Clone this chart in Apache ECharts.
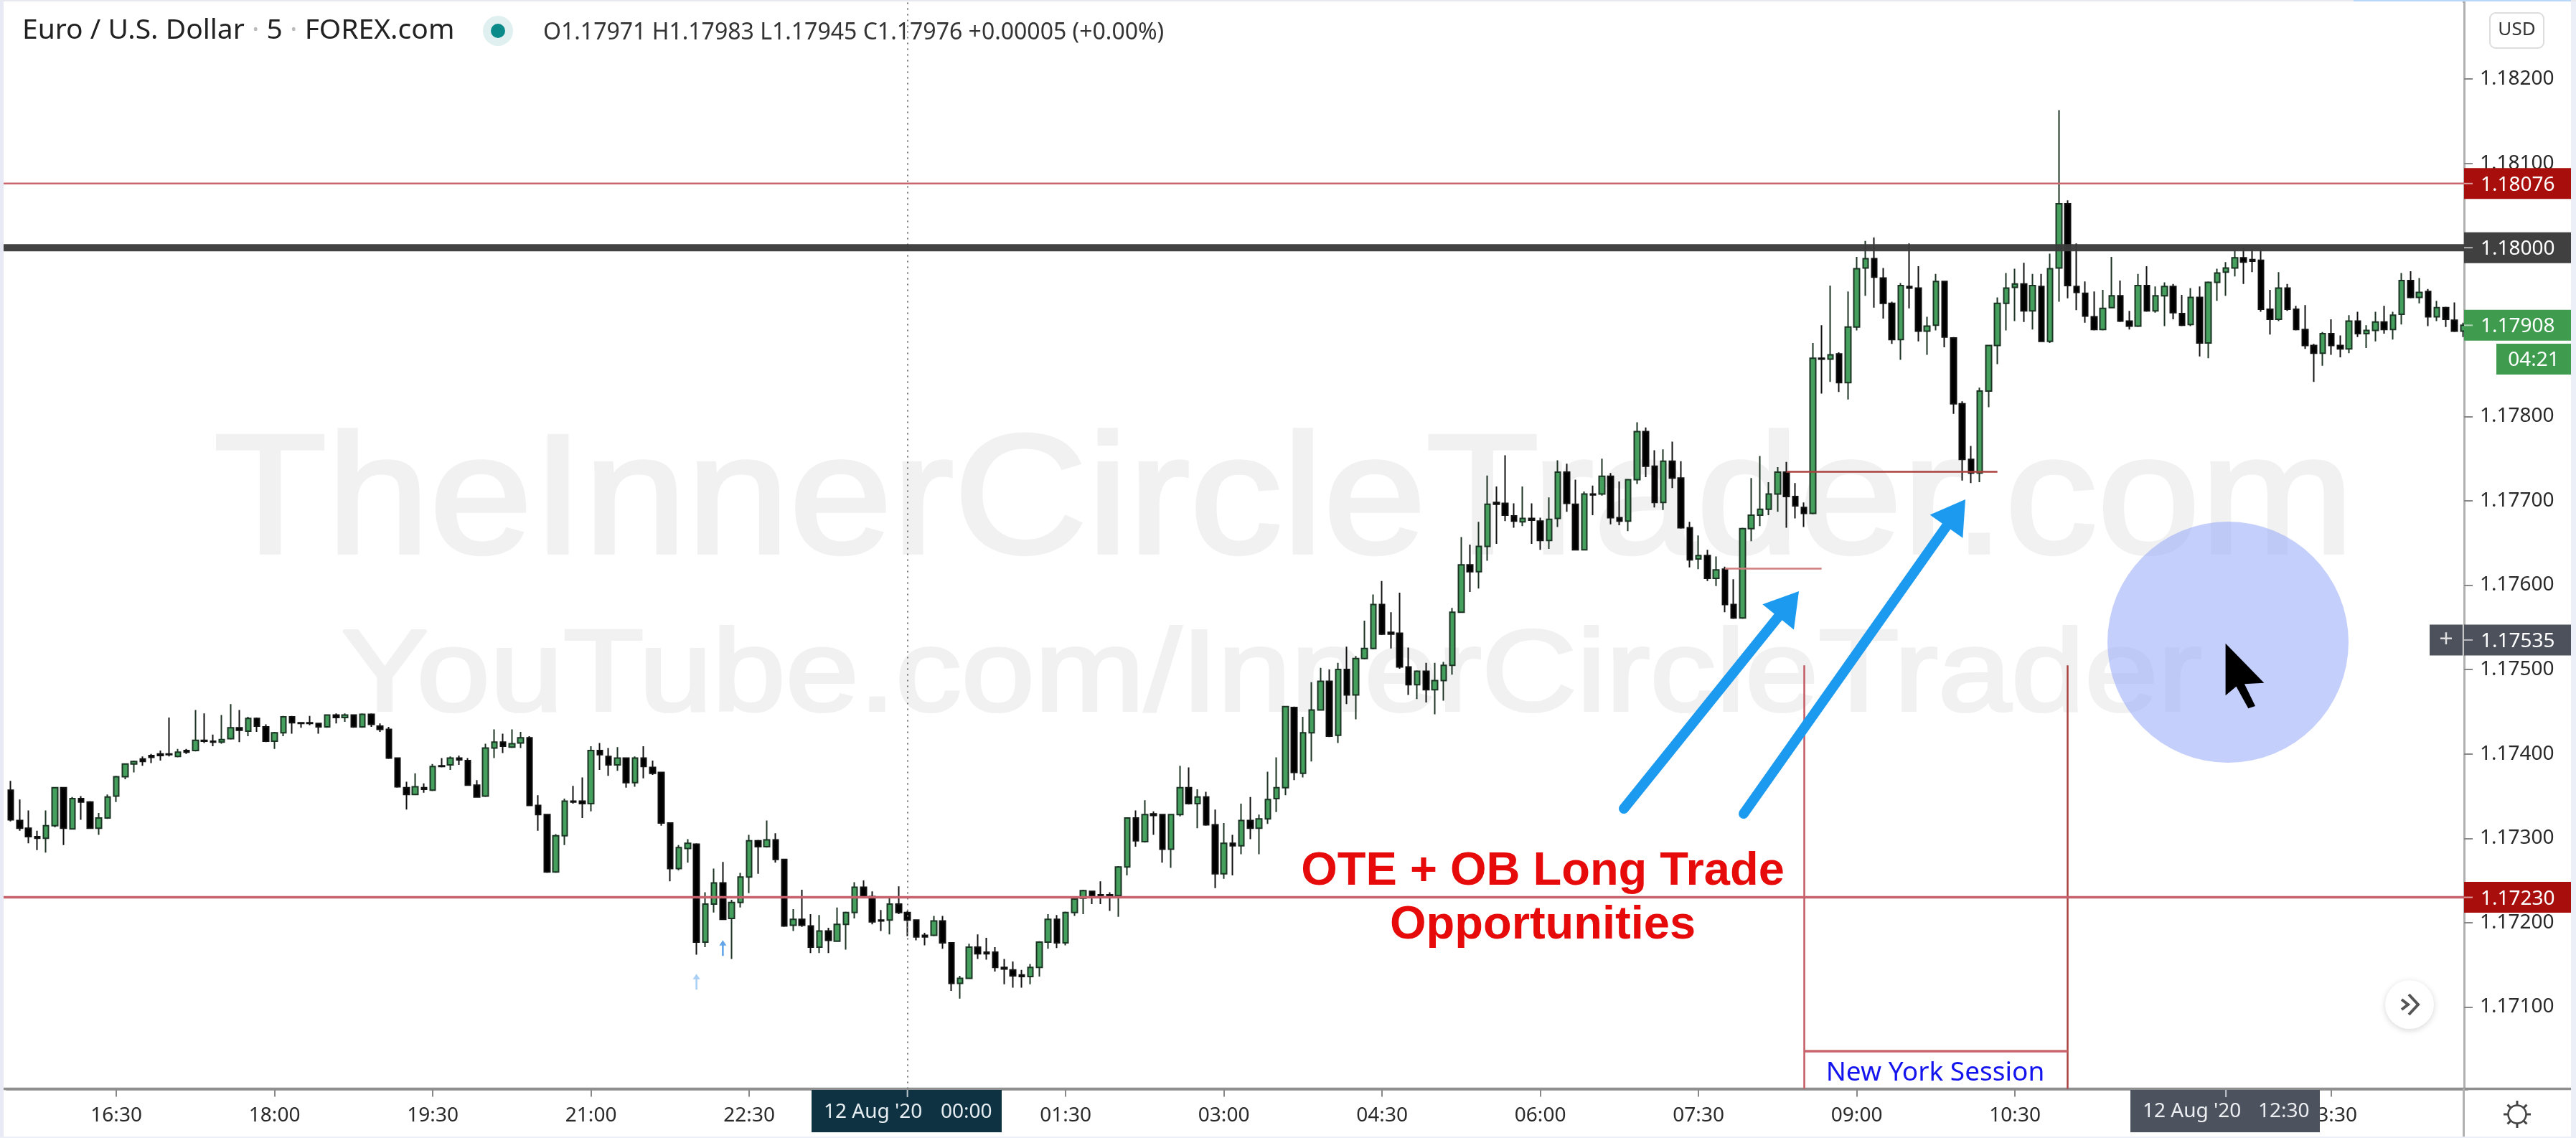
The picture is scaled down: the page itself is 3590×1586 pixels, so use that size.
<!DOCTYPE html>
<html><head><meta charset="utf-8">
<style>html,body{margin:0;padding:0;background:#fff}#c{width:3590px;height:1586px;filter:blur(0.6px)}</style>
<script src="https://cdn.jsdelivr.net/npm/echarts@6/dist/echarts.min.js"></script>
</head><body><div id="c"></div>
<script>
// Prices are stored as points (1e-5) above 1.17000.
const BASE = 1.17;
const opensPts = [357,321,312,302,300,315,360,311,347,343,
312,324,350,373,388,394,398,400,400,397,
404,404,416,415,414,418,431,427,442,432,
415,425,444,437,437,436,432,446,443,446,
432,447,433,429,395,360,352,360,357,386,
387,395,392,363,350,407,414,408,413,419,
339,328,260,303,344,344,341,404,397,387,
395,366,395,384,378,318,264,288,293,177,
222,247,205,224,254,297,290,298,275,197,
204,196,171,190,178,198,212,242,231,203,
203,222,212,203,185,185,202,176,128,134,
171,165,165,147,144,138,136,147,177,204,
176,212,229,237,233,233,232,266,324,296,
329,328,287,328,360,341,349,316,258,294,
291,321,312,323,347,360,455,377,425,452,
486,422,500,470,513,525,577,544,543,503,
482,498,476,487,505,568,624,616,646,698,
697,682,675,679,676,653,679,734,696,642,
708,708,729,680,676,725,782,741,698,747,
727,668,631,635,608,619,577,561,667,683,
690,708,734,705,692,685,869,868,874,840,
906,976,987,964,934,891,954,952,901,908,
960,893,815,749,733,830,884,934,953,957,
925,954,889,976,1052,954,946,918,903,929,
943,913,907,955,925,943,954,922,909,941,
887,959,971,976,988,986,985,927,915,952,
927,903,884,875,898,884,880,913,898,902,
912,903,921,961,941,948,918,929,914,901];
const closesPts = [322,312,302,300,315,360,312,347,343,312,
324,349,373,388,391,391,396,398,399,402,
402,416,415,414,417,431,428,442,433,415,
425,444,437,436,436,432,446,443,446,432,
447,435,429,395,361,352,361,358,385,385,
395,393,363,349,407,414,409,412,419,339,
328,260,303,344,343,341,404,399,387,395,
366,395,385,377,318,264,289,294,177,222,
247,204,224,254,297,290,298,275,196,204,
197,171,190,179,198,212,242,231,201,202,
222,212,203,183,183,202,176,128,134,171,
163,163,147,145,137,136,147,177,204,176,
212,228,238,232,231,231,266,324,297,328,
327,287,328,360,341,349,316,258,294,291,
321,312,323,346,360,456,378,425,452,486,
421,500,470,513,525,577,542,542,503,482,
498,476,487,505,568,624,616,646,696,696,
683,676,679,677,653,678,734,697,642,708,
707,729,680,676,725,782,741,698,747,727,
668,630,635,608,618,577,561,667,683,690,
708,734,705,694,685,869,868,873,840,906,
975,987,965,934,891,955,952,901,907,960,
894,815,749,733,830,884,934,952,957,925,
955,889,975,1052,955,947,919,903,928,943,
913,907,955,925,943,954,923,908,941,887,
959,970,976,988,983,984,927,915,952,927,
903,884,875,898,884,880,913,898,902,912,
903,920,961,941,947,918,929,915,901,908];
const lowsPts = [320,309,294,286,283,313,292,311,322,311,
304,323,343,370,378,386,389,392,397,396,
400,403,413,409,412,417,414,421,426,414,
406,421,424,431,434,424,431,436,438,431,
431,432,426,394,360,334,351,354,356,384,
381,387,362,349,349,395,401,407,407,339,
309,259,259,292,341,324,332,381,374,380,
360,361,371,375,315,249,262,271,162,171,
212,203,157,218,235,258,289,271,195,190,
195,164,164,164,178,168,205,230,198,190,
186,210,184,179,173,184,169,119,110,134,
157,156,142,127,123,123,127,136,169,170,
173,208,210,222,222,214,207,256,290,295,
304,271,265,326,340,312,315,241,252,256,
281,299,281,317,331,351,369,372,391,452,
420,413,459,441,512,524,541,525,501,470,
465,461,447,463,494,567,592,596,629,649,
676,668,670,649,642,643,669,687,641,641,
683,706,672,671,664,720,728,692,689,715,
667,621,619,605,599,568,560,560,652,670,
683,687,668,679,669,684,827,841,829,820,
902,943,929,916,886,867,928,889,873,902,
882,803,724,721,722,811,862,902,913,912,
903,888,887,936,940,926,911,902,902,928,
912,903,906,924,923,907,915,907,907,871,
869,937,943,966,957,971,924,897,913,925,
902,880,841,860,873,870,875,894,881,889,
898,891,909,940,934,907,913,906,900,894];
const highsPts = [368,346,333,309,333,360,360,349,350,344,
330,352,374,388,392,397,400,404,443,406,
406,452,448,423,446,459,452,444,443,435,
426,445,445,437,445,437,447,448,448,447,
448,448,436,432,396,367,377,365,388,395,
397,398,395,369,412,429,424,429,426,421,
351,328,305,347,362,372,409,413,407,408,
396,397,409,392,378,319,292,299,294,236,
264,272,227,259,304,298,321,306,275,216,
239,210,209,194,218,213,248,250,237,215,
229,243,214,203,188,208,208,176,137,175,
186,182,171,157,154,144,151,178,210,209,
213,229,239,238,249,236,267,324,333,345,
332,329,329,386,384,358,355,334,318,304,
341,349,328,379,396,457,456,444,485,502,
500,508,527,516,558,589,605,568,591,526,
499,508,508,509,573,657,648,675,730,717,
754,697,717,697,680,704,748,744,725,711,
718,750,733,723,725,793,787,760,761,770,
747,675,659,642,634,622,607,668,727,753,
722,740,746,721,698,887,908,955,876,948,
989,1008,1012,976,936,958,1005,978,918,969,
960,894,818,765,834,885,941,970,975,982,
969,969,993,1163,1056,1005,960,948,950,989,
961,925,969,978,954,959,957,944,952,954,
960,975,983,996,999,998,998,950,971,957,
931,932,886,900,915,896,920,924,908,924,
931,924,970,972,964,951,937,930,935,911];

const yTicks = [1.171,1.172,1.173,1.174,1.175,1.176,1.177,1.178,1.179,1.18,1.181,1.182];
const levelLines = {support:1.1723, round:1.18, resistance:1.18076};
const obLow = {price:1.1762, from:'07:45', to:'08:40'};
const obHigh = {price:1.17735, from:'08:20', to:'10:20'};
const sessionStart = '08:30', sessionEnd = '11:00';
const crosshairTime = '00:00';
const arrowMarks = [{t:'22:00',p:1.1713,c:'#93c3f2'},{t:'22:15',p:1.1717,c:'#3d8fe4'}];

const px = v => +(BASE + v/1e5).toFixed(5);
const times = [];
for (let i=0,m=15*60+30;i<opensPts.length;i++,m+=5){
  const t=m%1440; times.push(String(Math.floor(t/60)).padStart(2,'0')+':'+String(t%60).padStart(2,'0'));
}
const candles = opensPts.map((o,i)=>[px(o),px(closesPts[i]),px(lowsPts[i]),px(highsPts[i])]);

const LB='"Noto Sans",sans-serif';
const AXMIN=1.17003, AXMAX=1.18291;
const seg=(a,b,style)=>[{coord:a,lineStyle:style},{coord:b}];

const chart=echarts.init(document.getElementById('c'));
chart.setOption({
  animation:false,
  backgroundColor:'#fff',
  grid:{left:9,top:3,width:3430,height:1514.5,containLabel:false},
  xAxis:{type:'category',data:times,boundaryGap:true,
    axisLine:{show:true,lineStyle:{color:'#8f8f8f',width:3.5}},
    axisTick:{show:true,length:11,alignWithLabel:true,interval:(i)=>i%18===12,lineStyle:{color:'#888',width:2}},
    axisLabel:{show:true,interval:(i)=>i%18===12,margin:24,fontFamily:LB,fontSize:28,color:'#2a2a2a'},
    splitLine:{show:false}},
  yAxis:{type:'value',position:'right',offset:-5,min:AXMIN,max:AXMAX,scale:true,
    axisLine:{show:true,lineStyle:{color:'#b0b0b0',width:3}},
    axisTick:{show:true,length:12,customValues:yTicks,lineStyle:{color:'#888',width:2}},
    axisLabel:{show:true,customValues:yTicks,margin:22,padding:[4,0,0,0],fontFamily:LB,fontSize:28,color:'#2a2a2a',
      formatter:v=>v.toFixed(5),showMinLabel:true,showMaxLabel:true},
    splitLine:{show:false}},
  series:[{
    type:'candlestick',data:candles,barWidth:8,z:3,
    itemStyle:{color:'#45a05e',color0:'#000',borderColor:'#1b3323',borderColor0:'#111',borderColorDoji:'#222',borderWidth:2},
    markLine:{silent:true,symbol:'none',animation:false,label:{show:false},z:4,
      data:[
        {xAxis:crosshairTime,lineStyle:{color:'#777',width:2,type:[2,6]}},
        seg([obLow.from,obLow.price],[obLow.to,obLow.price],{color:'#cf7d7d',width:2.5,type:'solid'}),
        seg([obHigh.from,obHigh.price],[obHigh.to,obHigh.price],{color:'#a8423e',width:2.5,type:'solid'}),
        seg([sessionStart,1.17505],[sessionStart,AXMIN],{color:'#c25a62',width:2.5,type:'solid'}),
        seg([sessionEnd,1.17505],[sessionEnd,AXMIN],{color:'#a8423e',width:2.5,type:'solid'}),
        seg([sessionStart,1.17048],[sessionEnd,1.17048],{color:'#c9656d',width:3.5,type:'solid'})
      ]}
  },{
    type:'scatter',z:5,silent:true,symbol:'path://M5 0 L10 7 L6.3 7 L6.3 20 L3.7 20 L3.7 7 L0 7 Z',symbolSize:[10,22],
    data:arrowMarks.map(a=>({value:[a.t,a.p],itemStyle:{color:a.c}}))
  }]
});

const Y=p=>chart.convertToPixel({yAxisIndex:0},p);
const X=t=>chart.convertToPixel({xAxisIndex:0},t);
const g=[];
const rect=(x,y,w,h,fill,z,r)=>g.push({type:'rect',z,shape:{x,y,width:w,height:h,r:r||0},style:{fill},silent:true});
const text=(x,y,t,font,fill,align,z)=>g.push({type:'text',z,x,y,silent:true,style:{text:t,font,fill,align:align||'left',verticalAlign:'middle'}});
const line=(a,b,c,d,stroke,w,z,cap)=>g.push({type:'line',z,silent:true,shape:{x1:a,y1:b,x2:c,y2:d},style:{stroke,lineWidth:w,lineCap:cap||'butt'}});
const wm=(x,y,t,size,sx,sw)=>g.push({type:'text',z:-5,x,y,scaleX:sx,silent:true,style:{text:t,font:size+'px "Liberation Sans"',fill:'#f1f1f1',stroke:'#f1f1f1',lineWidth:sw,align:'left',verticalAlign:'middle'}});

// page frame
rect(0,0,5,1586,'#e7e9f4',40); rect(3583,0,7,1586,'#eceef8',40); rect(0,1584,3590,2,'#eceef8',40); rect(0,0,3590,2,'#e8e9ee',40);
rect(3280,0,303,2,'#b7d6f8',41);
// watermark
wm(298,705,'TheInnerCircleTrader.com',237,1.087,5);
wm(475,945,'YouTube.com/InnerCircleTrader',162,1.134,4);
// level lines
line(5,Y(levelLines.support),3434,Y(levelLines.support),'#c5626b',3.5,4);
line(5,Y(levelLines.resistance),3434,Y(levelLines.resistance),'#c9656d',2.5,4);
line(5,Y(levelLines.round),3434,Y(levelLines.round),'rgba(58,58,58,0.96)',10,4);
// header
g.push({type:'text',z:30,x:31,y:43,silent:true,style:{text:'{a|Euro / U.S. Dollar}{d| · }{a|5}{d| · }{a|FOREX.com}',verticalAlign:'middle',align:'left',
  rich:{a:{font:'39px '+LB,fill:'#222'},d:{font:'39px '+LB,fill:'#bbb'}}}});
g.push({type:'circle',z:30,silent:true,shape:{cx:694,cy:43,r:21},style:{fill:'#e0f0f0'}});
g.push({type:'circle',z:31,silent:true,shape:{cx:694,cy:43,r:10},style:{fill:'#0b8a8a'}});
text(757,46,'O1.17971 H1.17983 L1.17945 C1.17976 +0.00005 (+0.00%)','32px '+LB,'#333','left',30);
// arrows
function bigArrow(x0,y0,x1,y1){
  const L=Math.hypot(x1-x0,y1-y0),dx=(x1-x0)/L,dy=(y1-y0)/L,hl=46,hw=28;
  const bx=x1-hl*dx,by=y1-hl*dy;
  line(x0,y0,bx+6*dx,by+6*dy,'#1b9af0',14,20,'round');
  g.push({type:'polygon',z:20,silent:true,shape:{points:[[x1,y1],[bx-dy*hw,by+dx*hw],[bx+dy*hw,by-dx*hw]]},style:{fill:'#1b9af0'}});
}
bigArrow(2263,1127,2507,824);
bigArrow(2430,1134,2739,696);
text(2150,1215,'OTE + OB Long Trade','bold 65px "Liberation Sans"','#e60a0a','center',22);
text(2150,1290,'Opportunities','bold 65px "Liberation Sans"','#e60a0a','center',22);
text(2697,1495,'New York Session','37px '+LB,'#1414ee','center',22);
// circle and pointer
g.push({type:'circle',z:24,silent:true,shape:{cx:3105,cy:895,r:168},style:{fill:'rgba(148,168,248,0.55)'}});
g.push({type:'polygon',z:25,silent:true,shape:{points:[[3101.6,896.7],[3155.3,951.7],[3128,953.3],[3143,984],[3133.3,987.3],[3116.5,956.7],[3101.6,969.3]]},style:{fill:'#000'}});
// price badges
const badge=(p,bg,z)=>{const y=Y(p);rect(3434,y-21.5,149,43,bg,z||50);line(3434,y,3446,y,'rgba(255,255,255,.6)',2,(z||50)+1);text(3457,y+2,p.toFixed(5),'28px '+LB,'#fff','left',(z||50)+1);};
badge(levelLines.resistance,'#a80f0c');
badge(levelLines.round,'#404040');
badge(1.17908,'#3f9c4f');
badge(levelLines.support,'#a80f0c');
badge(1.17535,'#4c515c');
rect(3386,Y(1.17535)-21.5,46,43,'#4c515c',50);
text(3409,Y(1.17535),'+','34px '+LB,'#ddd','center',51);
rect(3479,479,104,43,'#3f9c4f',50);
text(3531,502,'04:21','28px '+LB,'#fff','center',51);
// USD box
g.push({type:'rect',z:30,silent:true,shape:{x:3470,y:18,width:75,height:49,r:8},style:{fill:'#fff',stroke:'#ddd',lineWidth:2}});
text(3507.5,42,'USD','26px '+LB,'#333','center',31);
// axis extension and time badges
line(3433.5,1517,3433.5,1584,'#b0b0b0',3,30);
line(2,1517.5,3583,1517.5,'#8f8f8f',3.5,1);
line(3433.5,0,3433.5,4,'#b0b0b0',3,30);
rect(1131,1519,265,59,'#0f3242',45);
line(X(crosshairTime),1519,X(crosshairTime),1529,'#b8c6cc',2,46);
text(1148,1550,"12 Aug '20",'28px '+LB,'#e6eef2','left',46);
text(1311,1550,'00:00','28px '+LB,'#e6eef2','left',46);
rect(2969,1519,264,59,'#4c525e',45);
line(X('12:30'),1519,X('12:30'),1529,'#c4c8ce',2,46);
text(2986,1549,"12 Aug '20",'28px '+LB,'#eceef2','left',46);
text(3147,1549,'12:30','28px '+LB,'#eceef2','left',46);
// scroll button
g.push({type:'circle',z:30,silent:true,shape:{cx:3358,cy:1400,r:34},style:{fill:'#fff',shadowBlur:8,shadowColor:'rgba(0,0,0,.16)',shadowOffsetY:2}});
g.push({type:'polyline',z:31,silent:true,shape:{points:[[3347,1393],[3356,1400],[3347,1407]]},style:{stroke:'#555',fill:'none',lineWidth:4}});
g.push({type:'polyline',z:31,silent:true,shape:{points:[[3357,1386],[3370,1400],[3357,1414]]},style:{stroke:'#555',fill:'none',lineWidth:4}});
// gear
const gx=3508,gy=1553;
g.push({type:'circle',z:31,silent:true,shape:{cx:gx,cy:gy,r:12.5},style:{fill:'#fff',stroke:'#444',lineWidth:2.5}});
[0,45,90,135,180,225,270,315].forEach(a=>{const r=a*Math.PI/180;line(gx+13*Math.cos(r),gy+13*Math.sin(r),gx+19*Math.cos(r),gy+19*Math.sin(r),'#444',3,31);});
chart.setOption({graphic:{elements:g}});
</script></body></html>
